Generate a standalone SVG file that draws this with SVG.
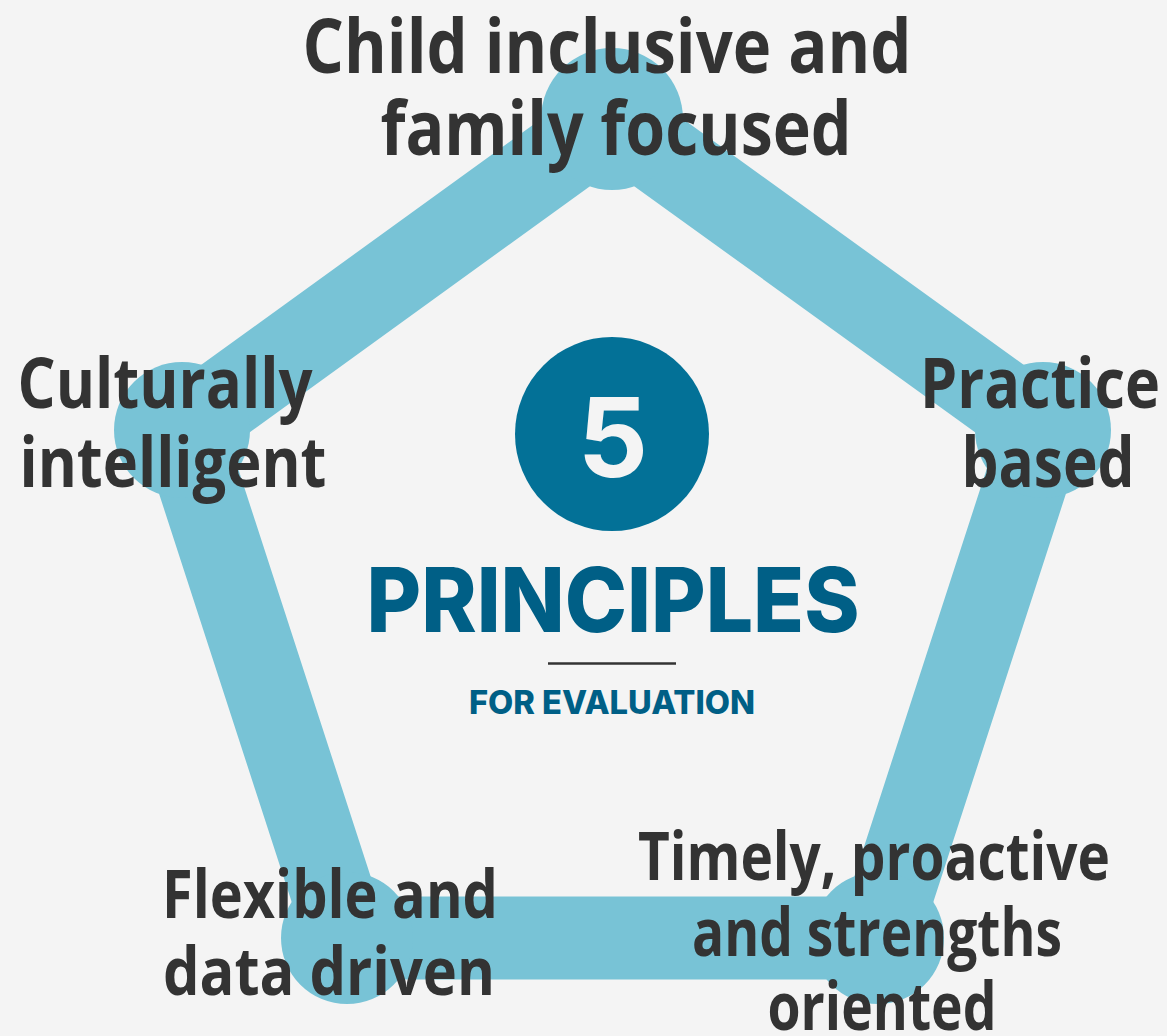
<svg xmlns="http://www.w3.org/2000/svg" width="1167" height="1036" viewBox="0 0 1167 1036">
  <style>
    .band { fill: none; stroke: #78c3d6; stroke-width: 83; stroke-linejoin: round; }
    .dot { fill: #78c3d6; }
    .lbl { font-family: "Open Sans", "Noto Sans", "Liberation Sans", sans-serif; font-weight: 700; fill: #333333; text-anchor: middle; }
    .ctr { font-family: "Inter", "Open Sans", "Liberation Sans", sans-serif; font-weight: 800; fill: #005f86; text-anchor: middle; }
  </style>
  <rect x="0" y="0" width="1167" height="1036" fill="#f4f4f4"/>
  <g id="connectors">
    <polygon class="band" points="612,119 1043,430 878,938 347,938 182,430"/>
  </g>
  <g id="node-top">
    <circle class="dot" cx="612" cy="119" r="71"/>
    <text class="lbl" font-size="76" x="607" y="73" textLength="609" lengthAdjust="spacingAndGlyphs">Child inclusive and</text>
    <text class="lbl" font-size="76" x="616" y="155" textLength="471" lengthAdjust="spacingAndGlyphs">family focused</text>
  </g>
  <g id="node-right">
    <circle class="dot" cx="1043" cy="430" r="68"/>
    <text class="lbl" font-size="70" x="1040" y="408" textLength="240" lengthAdjust="spacingAndGlyphs">Practice</text>
    <text class="lbl" font-size="70" x="1048" y="487" textLength="173" lengthAdjust="spacingAndGlyphs">based</text>
  </g>
  <g id="node-left">
    <circle class="dot" cx="182" cy="430" r="68"/>
    <text class="lbl" font-size="70" x="165" y="408" textLength="295" lengthAdjust="spacingAndGlyphs">Culturally</text>
    <text class="lbl" font-size="70" x="173" y="487" textLength="307" lengthAdjust="spacingAndGlyphs">intelligent</text>
  </g>
  <g id="node-bottom-right">
    <circle class="dot" cx="878" cy="938" r="66"/>
    <text class="lbl" font-size="66" x="874" y="880" textLength="472" lengthAdjust="spacingAndGlyphs">Timely, proactive</text>
    <text class="lbl" font-size="66" x="877" y="956" textLength="370" lengthAdjust="spacingAndGlyphs">and strengths</text>
    <text class="lbl" font-size="66" x="882" y="1030" textLength="229" lengthAdjust="spacingAndGlyphs">oriented</text>
  </g>
  <g id="node-bottom-left">
    <circle class="dot" cx="347" cy="938" r="66"/>
    <text class="lbl" font-size="66" x="330" y="918" textLength="336" lengthAdjust="spacingAndGlyphs">Flexible and</text>
    <text class="lbl" font-size="66" x="329" y="995" textLength="332" lengthAdjust="spacingAndGlyphs">data driven</text>
  </g>
  <g id="center">
    <circle cx="612" cy="434" r="97" fill="#037197"/>
    <text x="613" y="477" font-family="Inter, 'Open Sans', 'Liberation Sans', sans-serif" font-weight="700" font-size="110" fill="#f4f4f4" text-anchor="middle">5</text>
    <text class="ctr" x="613" y="632" font-size="90" textLength="493" lengthAdjust="spacingAndGlyphs">PRINCIPLES</text>
    <line x1="548" y1="663.5" x2="676" y2="663.5" stroke="#333333" stroke-width="2.7"/>
    <text class="ctr" x="612" y="714" font-size="32" textLength="286" lengthAdjust="spacingAndGlyphs">FOR EVALUATION</text>
  </g>
</svg>
